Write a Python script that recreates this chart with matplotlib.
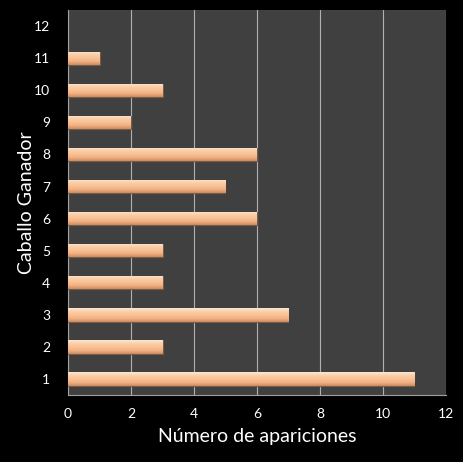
import matplotlib
matplotlib.use("Agg")
import matplotlib.pyplot as plt
import numpy as np

caballos = [1, 2, 3, 4, 5, 6, 7, 8, 9, 10, 11, 12]
apariciones = [11, 3, 7, 3, 3, 6, 5, 6, 2, 3, 1, 0]
x_ticks = [0, 2, 4, 6, 8, 10, 12]

plt.rcParams["font.family"] = ["Lato", "DejaVu Sans"]

fig = plt.figure(figsize=(4.63, 4.62), dpi=100, facecolor="black")
ax = fig.add_axes([0.147, 0.145, 0.816, 0.833], facecolor="#404040")

bars = ax.barh(caballos, apariciones, height=0.42, color="#f9c196",
               edgecolor="#7a5a40", linewidth=0.8, zorder=3)

# vertical shading inside each bar (light top, darker bottom)
grad = np.linspace(0, 1, 64).reshape(-1, 1)
cmap = matplotlib.colors.LinearSegmentedColormap.from_list(
    "peach", ["#fde6d2", "#fbcfa8", "#f9c196", "#f2b184", "#c98c60"])
for b in bars:
    w = b.get_width()
    if w <= 0:
        b.set_visible(False)
        continue
    y0 = b.get_y()
    h = b.get_height()
    im = ax.imshow(grad, cmap=cmap, aspect="auto", origin="upper",
                   extent=(0, w, y0, y0 + h), zorder=3.5)
    im.set_clip_path(b)

ax.set_xlim(0, 12)
ax.set_ylim(0.5, 12.5)
ax.set_xticks(x_ticks)
ax.set_yticks(caballos)
ax.xaxis.grid(True, color="#b0b0b0", linewidth=0.8, zorder=1)
ax.set_axisbelow(True)
for side in ["top", "right"]:
    ax.spines[side].set_visible(False)
for side in ["left", "bottom"]:
    ax.spines[side].set_color("#a0a0a0")
    ax.spines[side].set_linewidth(0.8)
ax.tick_params(colors="white", labelsize=10, length=0)
ax.tick_params(axis="y", pad=13)
ax.tick_params(axis="x", pad=9)

ax.set_xlabel("Número de apariciones", color="white", fontsize=14, labelpad=6)
ax.set_ylabel("Caballo Ganador", color="white", fontsize=14)
ax.yaxis.set_label_coords(-0.088, 0.5)

fig.savefig("out.png", dpi=100, facecolor="black")
